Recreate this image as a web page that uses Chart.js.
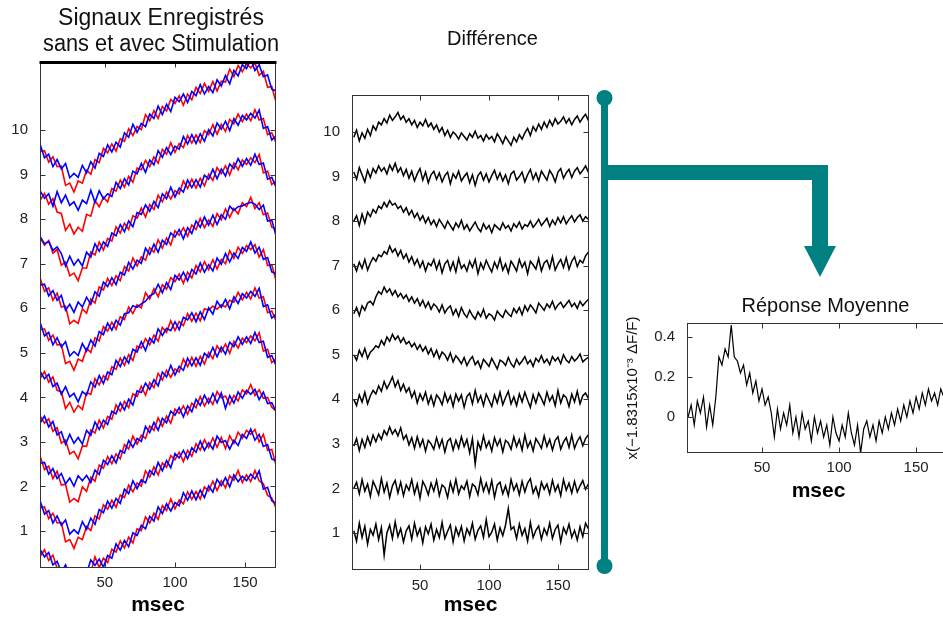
<!DOCTYPE html>
<html>
<head>
<meta charset="utf-8">
<script src="https://cdn.jsdelivr.net/npm/chart.js@4/dist/chart.umd.min.js"></script>
<style>
  html, body { margin: 0; padding: 0; background: #fff; overflow: hidden; }
  body { width: 943px; height: 618px; position: relative; }
  canvas { position: absolute; }
  #fleche { position: absolute; left: 0; top: 0; pointer-events: none; }
</style>
</head>
<body>
<canvas id="signaux" width="322" height="618" style="left:0;top:0"></canvas>
<canvas id="difference" width="300" height="618" style="left:310px;top:0"></canvas>
<canvas id="reponse" width="330" height="220" style="left:620px;top:290px"></canvas>
<svg id="fleche" width="943" height="618">
  <g fill="#008080">
    <rect x="601" y="97" width="7" height="469"/>
    <circle cx="604.5" cy="98" r="8"/>
    <circle cx="604.5" cy="566" r="8"/>
    <rect x="604" y="165" width="224" height="15"/>
    <rect x="812" y="165" width="16" height="82"/>
    <polygon points="804,246 836,246 820,277"/>
  </g>
</svg>
<script>
// temps (msec)
const msecSignaux = [4,7,10,13,16,19,22,25,28,31,34,37,40,43,46,49,52,55,58,61,64,67,70,73,76,79,82,85,88,91,94,97,100,103,106,109,112,115,118,121,124,127,130,133,136,139,142,145,148,151,154,157,160,163,166,169,172];
const msecDiff = [2,4,6,8,10,12,14,16,18,20,22,24,26,28,30,32,34,36,38,40,42,44,46,48,50,52,54,56,58,60,62,64,66,68,70,72,74,76,78,80,82,84,86,88,90,92,94,96,98,100,102,104,106,108,110,112,114,116,118,120,122,124,126,128,130,132,134,136,138,140,142,144,146,148,150,152,154,156,158,160,162,164,166,168,170,172];

const niveaux = [1,2,3,4,5,6,7,8,9,10];
const ticksX = [50,100,150];
const ticksMoy = [0,0.2,0.4];

// signaux sans stimulation (bleu), écart autour de chaque niveau
const sansStim = [
  [-.42,-.58,-.48,-.76,-.68,-.93,-.76,-.99,-.91,-1.10,-.87,-.95,-.65,-.77,-.63,-.81,-.55,-.61,-.29,-.43,-.21,-.35,-.04,-.10,.13,.05,.33,.22,.54,.39,.61,.45,.64,.57,.86,.69,.90,.70,.92,.75,1.01,.87,1.16,1.02,1.20,.99,1.26,1.11,1.23,1.13,1.28,1.17,1.35,.94,.98,.68,.62],
  [-.33,-.62,-.54,-.82,-.66,-.87,-.75,-1.07,-.97,-1.06,-.79,-.96,-.71,-.85,-.52,-.59,-.33,-.49,-.27,-.38,-.06,-.16,.13,-.05,.15,.08,.36,.26,.54,.35,.58,.42,.74,.64,.81,.62,.87,.77,1.02,.81,.98,.84,1.13,.99,1.03,.84,1.04,.92,1.17,1.08,1.29,1.04,1.17,.90,.94,.62,.58],
  [-.48,-.46,-.72,-.60,-.82,-.71,-.94,-.81,-.99,-.76,-.87,-.75,-.91,-.63,-.73,-.41,-.51,-.31,-.47,-.19,-.25,.03,-.12,.08,.01,.35,.21,.44,.26,.53,.43,.69,.60,.77,.56,.81,.68,.96,.82,1.05,.87,1.09,.88,1.10,.75,1.04,.87,1.12,.98,1.16,1.07,1.18,.95,1.12,.86,.88,.68],
  [-.57,-.42,-.66,-.54,-.84,-.77,-1.05,-.83,-1.03,-.90,-1.05,-.74,-.85,-.55,-.72,-.51,-.61,-.31,-.37,-.12,-.28,-.04,-.17,.15,.11,.32,.18,.40,.26,.57,.46,.72,.50,.70,.61,.88,.71,.89,.72,.99,.90,1.12,.91,1.13,.97,1.24,1.14,1.36,1.19,1.36,1.21,1.46,1.23,1.26,.90,.94,.72],
  [-.42,-.58,-.48,-.76,-.68,-.93,-.76,-.99,-.91,-1.10,-.87,-.95,-.65,-.77,-.51,-.69,-.43,-.49,-.17,-.31,-.09,-.23,.08,.02,.25,.05,.33,.22,.54,.39,.55,.5,.7,.52,.8,.74,.90,.70,.92,.75,1.01,.87,1.16,1.02,1.20,.99,1.26,1.11,1.33,1.23,1.38,1.27,1.45,1.04,1.08,.78,.87],
  [-.33,-.62,-.54,-.82,-.66,-.87,-.75,-1.07,-.97,-1.06,-.79,-.96,-.71,-.85,-.52,-.59,-.33,-.49,-.27,-.38,-.12,-.1,.06,.02,.1,.16,.28,.33,.54,.35,.58,.42,.74,.64,.81,.62,.87,.77,1.02,.81,.98,.84,1.13,.99,1.23,1.04,1.24,1.12,1.37,1.28,1.49,1.24,1.37,1.10,1.14,.82,.78],
  [-.48,-.46,-.72,-.60,-.82,-.71,-1.04,-.91,-1.09,-.86,-.97,-.75,-.91,-.63,-.73,-.41,-.51,-.31,-.47,-.19,-.25,.03,-.12,.08,.01,.35,.21,.44,.26,.53,.43,.69,.60,.77,.56,.81,.68,.96,.82,1.05,.87,1.09,.88,1.10,1.00,1.29,1.2,1.28,1.3,1.35,1.38,1.34,1.22,1.32,.96,.98,.63],
  [-.4,-.55,-.5,-.7,-.62,-.77,-1.05,-.83,-1.03,-.90,-1.05,-.74,-.85,-.55,-.72,-.51,-.61,-.31,-.37,-.12,-.28,-.04,-.17,.15,.11,.32,.18,.40,.26,.57,.46,.72,.50,.70,.61,.88,.71,.89,.72,.99,.90,1.12,.91,1.13,.97,1.24,1.14,1.36,1.19,1.36,1.21,1.46,1.23,1.26,.90,.94,.72],
  [-.37,-.53,-.43,-.71,-.38,-.63,-.46,-.69,-.61,-.80,-.57,-.65,-.35,-.62,-.36,-.54,-.43,-.49,-.17,-.31,-.09,-.23,.08,.02,.25,.05,.33,.22,.54,.39,.61,.45,.64,.57,.86,.69,.90,.70,.92,.75,1.01,.87,1.16,1.02,1.20,.99,1.26,1.11,1.33,1.23,1.38,1.27,1.45,1.04,1.08,.78,.87],
  [-.33,-.62,-.54,-.82,-.66,-.87,-.75,-1.07,-.97,-1.06,-.79,-.96,-.71,-.85,-.52,-.59,-.33,-.49,-.27,-.38,-.06,-.16,.13,-.05,.15,.08,.36,.26,.54,.35,.58,.42,.74,.64,.81,.62,.87,.77,1.02,.81,.98,.84,1.13,.99,1.23,1.04,1.34,1.22,1.47,1.38,1.59,1.34,1.47,1.2,1.24,.92,.88]
];

// signaux avec stimulation (rouge)
const avecStim = [
  [-.57,-.42,-.66,-.54,-.84,-.87,-1.25,-1.11,-1.33,-1.18,-1.27,-.89,-.93,-.58,-.82,-.61,-.71,-.41,-.47,-.22,-.38,-.14,-.27,.05,.01,.32,.18,.40,.26,.57,.46,.72,.50,.70,.61,.88,.71,.89,.72,.99,.90,1.12,.91,1.13,.97,1.24,1.14,1.36,1.09,1.26,1.11,1.36,1.13,1.06,.80,.74,.52],
  [-.48,-.46,-.72,-.60,-.82,-.81,-1.24,-1.19,-1.39,-1.14,-1.19,-.90,-.99,-.66,-.73,-.41,-.51,-.31,-.47,-.19,-.25,.03,-.12,.08,.01,.35,.21,.44,.26,.53,.43,.69,.60,.77,.56,.81,.68,.96,.82,1.05,.87,1.09,.88,1.10,.85,1.14,.97,1.22,1.08,1.26,1.17,1.28,1.00,1.17,.81,.83,.48],
  [-.33,-.62,-.54,-.82,-.66,-.97,-.95,-1.35,-1.27,-1.34,-1.01,-1.11,-.79,-.88,-.52,-.59,-.33,-.49,-.27,-.38,-.06,-.16,.13,-.05,.15,.08,.36,.26,.54,.35,.58,.42,.74,.64,.81,.62,.87,.77,1.02,.81,.98,.84,1.13,.99,1.03,.84,1.04,.92,1.17,1.08,1.29,1.04,1.17,.98,1.0,.78,.7],
  [-.42,-.58,-.48,-.76,-.68,-1.03,-.96,-1.27,-1.21,-1.38,-1.09,-1.10,-.73,-.80,-.51,-.69,-.43,-.49,-.17,-.31,-.09,-.23,.08,.02,.25,.05,.33,.22,.54,.39,.61,.45,.64,.57,.86,.69,.90,.70,.92,.75,1.01,.87,1.16,1.02,1.20,.99,1.26,1.11,1.33,1.23,1.38,1.27,1.45,1.04,1.08,.78,.87],
  [-.57,-.42,-.66,-.54,-.84,-.87,-1.25,-1.11,-1.33,-1.18,-1.27,-.89,-.93,-.58,-.72,-.51,-.61,-.31,-.37,-.12,-.28,-.04,-.17,.15,.11,.32,.18,.40,.26,.57,.46,.72,.50,.70,.61,.88,.71,.89,.72,.99,.96,1.05,.98,1.08,1.03,1.18,1.14,1.36,1.19,1.36,1.21,1.46,1.23,1.26,.90,.94,.72],
  [-.48,-.46,-.72,-.60,-.82,-.81,-1.24,-1.19,-1.39,-1.14,-1.19,-.90,-.99,-.66,-.73,-.41,-.51,-.31,-.47,-.19,-.25,.03,-.12,.08,.01,.35,.21,.44,.26,.53,.43,.69,.60,.77,.56,.81,.68,.96,.82,1.05,.87,1.09,.88,1.10,1.00,1.29,1.12,1.37,1.23,1.41,1.32,1.43,1.15,1.32,.96,.98,.63],
  [-.33,-.62,-.54,-.82,-.66,-.97,-.95,-1.35,-1.27,-1.34,-1.01,-1.11,-.79,-.88,-.52,-.59,-.33,-.49,-.27,-.38,-.06,-.16,.13,-.05,.15,.08,.36,.26,.54,.35,.58,.42,.74,.64,.81,.62,.87,.77,1.02,.81,.98,.84,1.13,.99,1.23,1.04,1.24,1.12,1.37,1.28,1.49,1.24,1.37,1.10,1.14,.82,.78],
  [-.42,-.58,-.48,-.76,-.68,-1.03,-.96,-1.27,-1.21,-1.38,-1.09,-1.10,-.73,-.80,-.51,-.69,-.43,-.49,-.17,-.31,-.09,-.23,.08,.02,.25,.05,.33,.22,.54,.39,.61,.45,.64,.57,.86,.69,.90,.70,.92,.75,1.01,.87,1.16,1.02,1.20,.99,1.26,1.11,1.33,1.23,1.38,1.27,1.45,1.04,1.08,.78,.87],
  [-.57,-.42,-.66,-.54,-.84,-.87,-1.25,-1.11,-1.33,-1.18,-1.27,-.89,-.93,-.58,-.72,-.51,-.61,-.31,-.37,-.12,-.28,-.04,-.17,.15,.11,.32,.18,.40,.26,.57,.46,.72,.50,.70,.61,.88,.71,.89,.72,.99,.90,1.12,.91,1.13,.97,1.24,1.14,1.36,1.19,1.36,1.21,1.46,1.23,1.26,.90,.94,.72],
  [-.48,-.46,-.72,-.60,-.82,-.81,-1.24,-1.19,-1.39,-1.14,-1.19,-.90,-.99,-.66,-.73,-.41,-.51,-.31,-.47,-.19,-.25,.03,-.12,.08,.01,.35,.21,.44,.26,.53,.43,.69,.60,.77,.56,.81,.68,.96,.82,1.05,.87,1.09,.88,1.10,1.08,1.37,1.2,1.45,1.31,1.49,1.4,1.51,1.23,1.32,.96,.98,.63]
];

// différence (noir)
const difference = [
  [.05,-.18,.22,-.1,.15,-.25,.08,-.05,.2,-.15,.12,-.5,.0,.18,-.12,.25,-.08,.1,-.2,.05,.16,-.14,.22,-.06,.1,-.22,.14,-.02,.2,-.16,.08,-.1,.24,-.12,.04,.18,-.2,.12,-.06,.15,-.18,.1,-.04,.22,-.14,.06,.16,-.1,.3,-.08,.02,.2,-.16,.12,-.06,.18,.55,.08,.14,-.12,.2,-.05,.1,-.18,.24,-.1,.06,.16,-.14,.1,-.04,.22,-.12,.08,.18,-.2,.12,-.02,.2,-.1,.06,-.16,.14,-.08,.22,.1],
  [.0,.14,-.12,.2,-.06,.1,-.18,.16,.02,-.14,.22,-.08,.12,-.2,.06,.18,-.1,.14,-.16,.08,-.04,.2,-.12,.1,-.22,.16,.04,-.14,.12,-.06,.18,-.16,.08,.02,-.2,.14,-.08,.2,-.12,.06,-.02,.16,-.18,.1,.04,-.14,.22,-.06,.12,-.1,.18,-.2,.08,.14,-.12,.06,-.16,.2,-.04,.1,-.14,.16,-.08,.12,.22,-.1,.04,-.18,.14,-.02,.1,-.12,.18,-.06,.08,-.16,.2,-.04,.12,-.1,.16,-.08,.06,.18,-.02,.1],
  [-.05,.12,-.15,.1,-.08,.16,-.02,.2,.05,.22,.1,.3,.2,.38,.22,.32,.18,.36,.1,.2,-.02,.14,-.1,.16,-.06,.1,-.16,.08,.0,-.12,.14,-.08,.1,-.18,.06,.12,-.14,.08,-.1,.16,-.06,.1,-.2,.12,-.45,.04,-.12,.18,-.08,.06,-.16,.14,-.04,.1,-.18,.08,.02,-.12,.16,-.06,.1,-.14,.2,-.08,.06,-.16,.12,.02,-.1,.18,-.06,.1,-.14,.08,.16,-.12,.04,.14,-.08,.2,-.1,.06,.16,-.04,.12,.2],
  [.0,-.14,.1,-.06,.16,-.1,.08,.2,.12,.3,.18,.4,.24,.36,.5,.28,.42,.2,.34,.16,.26,.04,.18,-.08,.12,-.02,.16,-.1,.08,-.14,.1,.02,-.12,.14,-.06,.08,-.16,.12,-.04,.1,-.18,.06,.14,-.1,.2,-.06,.08,-.14,.12,-.02,-.16,.1,-.08,.16,-.12,.04,.18,-.1,.06,-.14,.12,-.06,.16,-.02,-.18,.1,-.08,.14,.02,-.12,.16,-.04,.08,-.14,.2,-.08,.1,.04,-.16,.12,-.06,.18,-.1,.08,.14,.02],
  [.0,-.12,.1,-.04,.14,-.08,.06,.12,.2,.16,.32,.22,.4,.3,.46,.34,.42,.28,.38,.24,.3,.18,.26,.12,.22,.08,.18,.02,.14,-.04,.1,-.08,.06,.0,-.12,.04,-.16,-.02,-.1,-.2,-.06,-.24,-.12,-.04,-.22,-.14,-.3,-.1,-.18,-.26,-.08,-.2,-.32,-.12,-.16,-.24,-.06,-.2,-.28,-.1,-.22,-.14,-.04,-.2,-.12,-.26,-.08,-.16,-.02,-.18,-.1,-.22,-.04,-.14,-.06,-.2,.0,-.12,-.18,-.04,-.14,-.08,.02,-.16,-.1,-.06],
  [-.08,.06,-.12,.1,.0,.16,.2,.12,.3,.42,.36,.52,.4,.48,.34,.44,.3,.38,.26,.34,.2,.3,.16,.26,.1,.22,.06,.18,.02,.14,.08,-.04,.12,-.06,.04,.1,-.1,.02,-.14,.06,-.08,-.16,.0,-.12,-.2,-.04,-.14,.02,-.18,-.08,-.12,-.22,-.02,-.1,-.16,.0,-.08,-.14,.04,-.06,.06,-.1,.1,-.02,.12,.04,-.06,.16,.08,.0,.14,.06,.2,.02,.12,.18,.06,.14,.22,.08,.16,.04,.2,.1,.18,.24],
  [.04,-.12,.08,-.06,.14,-.1,.06,.18,.1,.24,.2,.32,.26,.44,.3,.38,.22,.34,.16,.26,.08,.2,.02,.14,-.04,.1,-.12,.06,.0,.14,-.08,.1,-.16,.04,.12,-.1,.08,-.14,.16,-.06,.02,-.12,.1,-.04,.14,-.18,.06,-.08,.12,-.02,-.14,.08,-.06,.16,-.1,.04,-.16,.1,.0,-.12,.14,-.04,.08,-.18,.1,.02,-.08,.16,-.12,.06,.12,-.06,.2,-.1,.04,.14,-.04,.18,-.08,.1,.2,-.02,.12,.06,.22,.3],
  [.0,.12,-.1,.16,-.04,.2,.1,.26,.18,.34,.28,.42,.32,.46,.36,.4,.28,.34,.2,.3,.14,.24,.08,.18,.02,.12,-.04,.08,-.08,.02,-.12,.04,-.06,-.16,.0,-.1,-.2,-.04,-.14,.02,-.18,-.08,-.22,-.12,-.02,-.16,-.24,-.06,-.18,-.1,-.26,-.08,-.14,-.2,-.04,-.16,-.1,-.22,-.06,-.14,-.02,-.18,-.08,-.12,.0,-.14,-.06,.04,-.1,-.02,.06,-.12,.02,-.08,.08,-.04,.1,-.06,.04,.12,-.02,.08,.14,.0,.1,.04],
  [.1,-.06,.2,.04,-.12,.14,-.02,.18,.08,.24,.12,.2,.06,.26,.14,.3,.1,.2,.02,.16,-.04,.12,-.1,.06,.18,-.08,.1,-.14,.04,.12,-.06,.08,-.12,.02,.1,-.16,.06,-.04,.12,-.1,.0,.08,-.14,.04,-.2,.02,.1,-.08,.06,-.12,.02,.14,-.06,.08,-.1,.04,-.16,.06,.12,-.08,.0,.1,-.12,.04,.16,-.06,.08,-.1,.12,.02,-.08,.14,.04,-.12,.1,.18,-.04,.08,.16,-.02,.12,.2,.06,.14,.24,.1],
  [-.12,.04,-.2,-.02,-.14,.06,-.08,.14,.04,.22,.16,.3,.2,.38,.26,.34,.44,.28,.36,.22,.3,.16,.26,.1,.22,.14,.28,.12,.2,.06,.16,.0,.1,-.08,.04,-.12,.0,-.06,-.16,-.02,-.1,-.18,-.04,-.12,.02,-.14,-.08,-.2,-.06,-.16,-.1,-.22,-.04,-.14,-.26,-.1,-.2,-.3,-.12,-.22,-.06,-.16,-.02,.08,-.08,.12,.02,.18,.06,.22,.1,.26,.14,.3,.18,.24,.34,.2,.3,.16,.28,.36,.22,.32,.4,.26]
];

// réponse moyenne
const reponseMoyenne = [
  .0,.06,-.04,.08,.02,.1,-.05,.06,-.04,.1,
  .3,.26,.34,.3,.46,.3,.28,.22,.26,.16,
  .22,.12,.18,.08,.14,.06,.1,.02,-.1,.04,
  -.06,.02,-.04,.06,-.08,.0,-.1,.02,-.06,-.02,
  -.12,.0,-.08,-.02,-.1,-.04,-.14,.0,-.08,-.12,
  -.04,-.1,.02,-.08,-.14,-.04,-.18,-.06,-.02,-.1,
  -.04,-.12,-.02,-.08,.0,-.06,.02,-.04,.04,-.02,
  .06,.0,.08,.02,.1,.04,.12,.06,.14,.08,
  .12,.06,.14,.1,.16,.12
];

const police = '"Liberation Sans", Arial, sans-serif';
Chart.defaults.font.family = police;
Chart.defaults.color = '#222';

// cadre + graduations vers l'intérieur, et petit décalage du titre
const cadre = {
  id: 'cadre',
  afterLayout(chart, args, opts) {
    if (opts.decalTitre && chart.titleBlock) {
      chart.titleBlock.left += opts.decalTitre;
      chart.titleBlock.right += opts.decalTitre;
    }
  },
  afterDatasetsDraw(chart, args, opts) {
    const {ctx, chartArea: a, scales: {x, y}} = chart;
    const l = Math.round(a.left) + .5, r = Math.round(a.right) - .5;
    const t = Math.round(a.top) + .5, b = Math.round(a.bottom) - .5;
    ctx.save();
    ctx.strokeStyle = '#333';
    ctx.lineWidth = 1;
    ctx.beginPath();
    x.ticks.forEach(tk => {
      const px = Math.round(x.getPixelForValue(tk.value)) + .5;
      ctx.moveTo(px, b); ctx.lineTo(px, b - 5);
      ctx.moveTo(px, t); ctx.lineTo(px, t + 5);
    });
    y.ticks.forEach(tk => {
      const py = Math.round(y.getPixelForValue(tk.value)) + .5;
      ctx.moveTo(l, py); ctx.lineTo(l + 5, py);
      ctx.moveTo(r, py); ctx.lineTo(r - 5, py);
    });
    ctx.stroke();
    ctx.strokeRect(l, t, r - l, b - t);
    if (opts.hautEpais) {
      ctx.lineWidth = 3;
      ctx.strokeStyle = '#000';
      ctx.beginPath(); ctx.moveTo(l - 1, t); ctx.lineTo(r + 1, t); ctx.stroke();
    }
    ctx.restore();
  }
};

function axeX(min, max, hauteur, pad, titrePad) {
  return {
    type: 'linear', min: min, max: max,
    grid: {display: false, drawTicks: false}, border: {display: false},
    afterBuildTicks: s => { s.ticks = ticksX.map(v => ({value: v})); },
    afterFit: s => { s.height = hauteur; },
    ticks: {padding: pad, autoSkip: false, maxRotation: 0, font: {size: 15}, color: '#222', callback: v => v},
    title: {display: true, text: 'msec', color: '#000', font: {size: 21, weight: 'bold'}, padding: {top: 0, bottom: titrePad}}
  };
}

function axeY(min, max, largeur, valeurs, titre) {
  const ax = {
    type: 'linear', min: min, max: max,
    grid: {display: false, drawTicks: false}, border: {display: false},
    afterBuildTicks: s => { s.ticks = valeurs.map(v => ({value: v})); },
    afterFit: s => { s.width = largeur; },
    ticks: {padding: 12, autoSkip: false, font: {size: 15}, color: '#222', callback: v => v}
  };
  if (titre) ax.title = titre;
  return ax;
}

const trace = (xs, ys, decal) => ys.map((v, i) => ({x: xs[i], y: v + decal}));

const base = {
  animation: false, responsive: false, events: [],
  elements: {point: {radius: 0}, line: {tension: 0}}
};

// 1. signaux enregistrés
const dsSignaux = [];
niveaux.forEach((n, k) => {
  dsSignaux.push({data: trace(msecSignaux, sansStim[k], n), borderColor: '#0000ff', borderWidth: 1.6});
  dsSignaux.push({data: trace(msecSignaux, avecStim[k], n), borderColor: '#ff0000', borderWidth: 1.6});
});
new Chart(document.getElementById('signaux'), {
  type: 'line',
  data: {datasets: dsSignaux},
  options: Object.assign({}, base, {
    layout: {padding: {left: 0, right: 46, top: 0, bottom: 0}},
    scales: {
      x: axeX(3.8, 172, 50, 6, 0),
      y: axeY(0.17, 11.53, 40, niveaux)
    },
    plugins: {
      legend: {display: false}, tooltip: {enabled: false},
      title: {display: true, fullSize: false, text: ['Signaux Enregistrés', 'sans et avec Stimulation'],
        color: '#111', font: {size: 23, weight: 'normal', lineHeight: 26 / 23}, padding: {top: 6, bottom: 4}},
      cadre: {hautEpais: true, decalTitre: 3}
    }
  }),
  plugins: [cadre]
});

// 2. différence
new Chart(document.getElementById('difference'), {
  type: 'line',
  data: {datasets: niveaux.map((n, k) => ({data: trace(msecDiff, difference[k], n), borderColor: '#000', borderWidth: 1.5}))},
  options: Object.assign({}, base, {
    layout: {padding: {left: 0, right: 21, top: 0, bottom: 0}},
    scales: {
      x: axeX(0.7, 172.5, 48, 7, 0),
      y: axeY(0.17, 10.83, 42, niveaux)
    },
    plugins: {
      legend: {display: false}, tooltip: {enabled: false},
      title: {display: true, fullSize: false, text: 'Différence', color: '#111',
        font: {size: 20, weight: 'normal', lineHeight: 1.2}, padding: {top: 27, bottom: 44}},
      cadre: {decalTitre: 22}
    }
  }),
  plugins: [cadre]
});

// 3. réponse moyenne
new Chart(document.getElementById('reponse'), {
  type: 'line',
  data: {datasets: [{data: trace(msecDiff, reponseMoyenne, 0), borderColor: '#000', borderWidth: 1.2}]},
  options: Object.assign({}, base, {
    layout: {padding: 0},
    scales: {
      x: axeX(1.3, 172, 57, 6, 6),
      y: axeY(-0.18, 0.47, 67, ticksMoy, {display: true, text: 'x(−1.8315x10⁻³ ΔF/F)', color: '#111',
        font: {size: 15}, padding: {top: 4, bottom: 0}})
    },
    plugins: {
      legend: {display: false}, tooltip: {enabled: false},
      title: {display: true, fullSize: false, text: 'Réponse Moyenne', color: '#111',
        font: {size: 20, weight: 'normal', lineHeight: 1.2}, padding: {top: 4, bottom: 5}},
      cadre: {decalTitre: 7}
    }
  }),
  plugins: [cadre]
});
</script>
</body>
</html>
